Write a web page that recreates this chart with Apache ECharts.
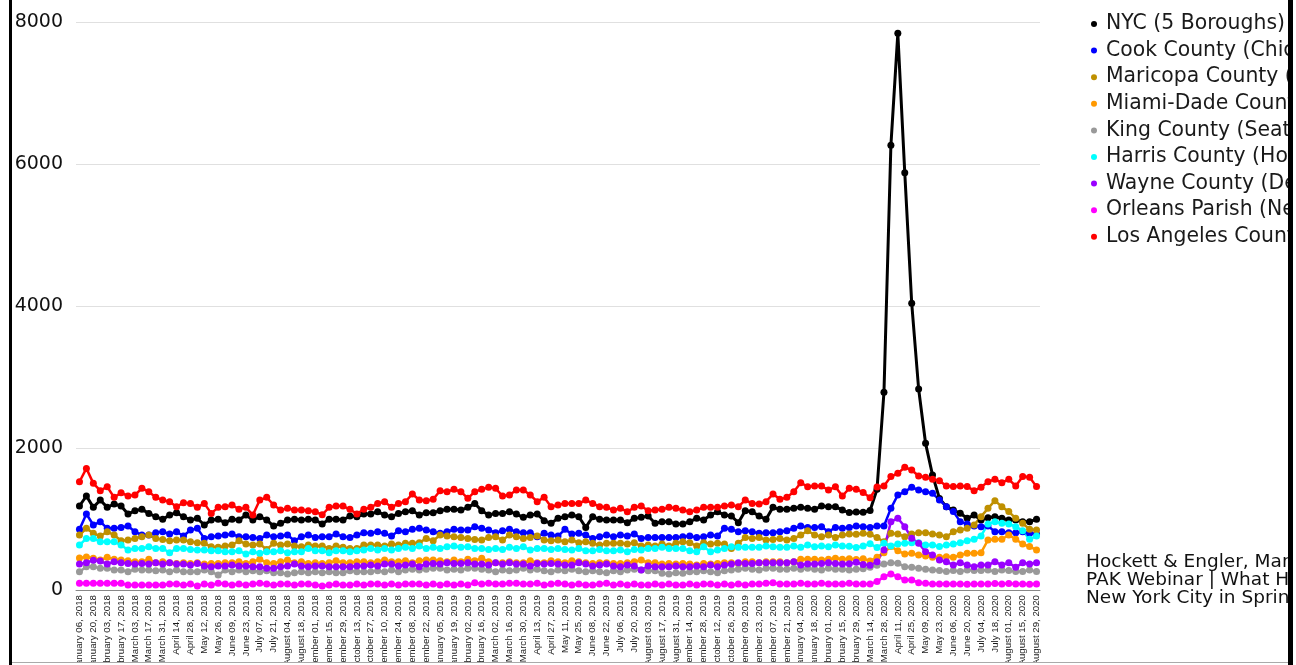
<!DOCTYPE html>
<html>
<head>
<meta charset="utf-8">
<script src="https://cdn.jsdelivr.net/npm/echarts@6/dist/echarts.min.js"></script>
<style>
html,body{margin:0;padding:0;background:#fff;width:1296px;height:665px;overflow:hidden;}
#clip{position:absolute;left:0;top:0;width:1288px;height:662px;overflow:hidden;}
#chart{position:absolute;left:0;top:0;width:1296px;height:700px;}
.bar{position:absolute;background:#000;}
</style>
</head>
<body>
<div id="clip"><div id="chart"></div></div>
<div class="bar" style="left:9px;top:0;width:3px;height:665px;"></div>
<div class="bar" style="left:1288px;top:0;width:5px;height:665px;"></div>
<div style="position:absolute;left:12px;top:662px;width:1276px;height:1px;background:#aaa;"></div>
<script>
const categories = [
"January 06, 2018","January 13, 2018","January 20, 2018","January 27, 2018",
"February 03, 2018","February 10, 2018","February 17, 2018","February 24, 2018",
"March 03, 2018","March 10, 2018","March 17, 2018","March 24, 2018","March 31, 2018",
"April 07, 2018","April 14, 2018","April 21, 2018","April 28, 2018",
"May 05, 2018","May 12, 2018","May 19, 2018","May 26, 2018",
"June 02, 2018","June 09, 2018","June 16, 2018","June 23, 2018","June 30, 2018",
"July 07, 2018","July 14, 2018","July 21, 2018","July 28, 2018",
"August 04, 2018","August 11, 2018","August 18, 2018","August 25, 2018",
"September 01, 2018","September 08, 2018","September 15, 2018","September 22, 2018","September 29, 2018",
"October 06, 2018","October 13, 2018","October 20, 2018","October 27, 2018",
"November 03, 2018","November 10, 2018","November 17, 2018","November 24, 2018",
"December 01, 2018","December 08, 2018","December 15, 2018","December 22, 2018","December 29, 2018",
"January 05, 2019","January 12, 2019","January 19, 2019","January 26, 2019",
"February 02, 2019","February 09, 2019","February 16, 2019","February 23, 2019",
"March 02, 2019","March 09, 2019","March 16, 2019","March 23, 2019","March 30, 2019",
"April 06, 2019","April 13, 2019","April 20, 2019","April 27, 2019",
"May 04, 2019","May 11, 2019","May 18, 2019","May 25, 2019",
"June 01, 2019","June 08, 2019","June 15, 2019","June 22, 2019","June 29, 2019",
"July 06, 2019","July 13, 2019","July 20, 2019","July 27, 2019",
"August 03, 2019","August 10, 2019","August 17, 2019","August 24, 2019","August 31, 2019",
"September 07, 2019","September 14, 2019","September 21, 2019","September 28, 2019",
"October 05, 2019","October 12, 2019","October 19, 2019","October 26, 2019",
"November 02, 2019","November 09, 2019","November 16, 2019","November 23, 2019","November 30, 2019",
"December 07, 2019","December 14, 2019","December 21, 2019","December 28, 2019",
"January 04, 2020","January 11, 2020","January 18, 2020","January 25, 2020",
"February 01, 2020","February 08, 2020","February 15, 2020","February 22, 2020","February 29, 2020",
"March 07, 2020","March 14, 2020","March 21, 2020","March 28, 2020",
"April 04, 2020","April 11, 2020","April 18, 2020","April 25, 2020",
"May 02, 2020","May 09, 2020","May 16, 2020","May 23, 2020","May 30, 2020",
"June 06, 2020","June 13, 2020","June 20, 2020","June 27, 2020",
"July 04, 2020","July 11, 2020","July 18, 2020","July 25, 2020",
"August 01, 2020","August 08, 2020","August 15, 2020","August 22, 2020","August 29, 2020"
];

const seriesNames = [
"NYC (5 Boroughs)","Cook County (Chicago)","Maricopa County (Phoenix)",
"Miami-Dade County (Miami)","King County (Seattle)","Harris County (Houston)",
"Wayne County (Detroit)","Orleans Parish (New Orleans)","Los Angeles County (LA)"
];

const nyc = [
1183,1324,1164,1267,1164,1211,1183,1070,1117,1136,1079,1032,995,1056,1089,1032,986,1009,915,986,995,948,995,986,1056,986,1032,986,901,939,986,995,986,995,986,929,995,995,
986,1042,1032,1070,1070,1103,1056,1032,1079,1103,1117,1056,1089,1089,1117,1136,1136,1126,1164,1220,1117,1056,1079,1079,1103,1070,1023,1056,1070,976,939,1009,1032,1056,1032,882,1032,995,986,986,
986,948,1009,1023,1042,939,962,962,929,929,962,1009,986,1056,1103,1056,1042,948,1117,1103,1042,995,1164,1136,1136,1150,1164,1150,1136,1183,1173,1173,1126,1090,1100,1095,1120,
1420,2785,6263,7840,5878,4040,2831,2066,1620,1290,1174,1127,1080,1010,1056,986,1019,1033,1010,986,986,963,963,996
];
const cook = [
854,1070,915,962,868,868,882,901,821,774,774,807,821,788,821,760,845,868,727,751,760,774,788,751,751,741,727,774,751,760,774,694,751,774,741,751,751,788,
751,741,774,807,798,821,798,760,835,821,854,868,845,821,798,821,854,845,845,892,868,845,807,835,854,821,807,807,751,798,774,760,854,788,798,774,727,751,774,751,
774,760,788,727,741,741,741,741,741,751,760,741,751,774,760,868,854,821,835,821,798,807,807,821,835,868,901,882,882,892,821,882,868,882,901,892,882,901,
902,1150,1338,1385,1446,1409,1385,1362,1268,1174,1104,963,930,902,892,902,822,822,808,808,822,798,789
];
const maricopa = [
774,868,798,760,821,774,694,704,727,751,774,727,713,694,704,704,680,666,657,610,601,619,633,694,647,633,647,572,657,633,647,619,610,633,619,619,586,619,
601,586,586,633,633,633,619,647,633,657,657,666,727,694,774,760,751,741,727,713,704,741,751,704,774,751,727,741,760,704,694,704,680,704,666,680,657,633,657,657,
657,647,666,619,633,619,647,619,657,680,666,619,666,647,657,647,586,657,741,727,741,704,713,727,704,727,774,835,774,751,774,741,774,790,785,800,785,740,
680,798,789,751,789,808,808,789,775,751,822,845,869,916,1033,1150,1258,1174,1104,1010,939,855,845
];
const miami = [
450,465,446,422,460,432,422,413,399,399,432,385,399,385,375,385,375,385,366,375,375,385,385,399,375,399,432,385,375,399,422,385,399,375,385,375,385,413,
385,385,399,399,385,399,422,399,399,413,385,413,422,422,413,399,422,399,432,413,446,399,385,385,399,385,385,413,385,385,413,399,385,413,399,385,375,385,385,375,
375,385,399,422,385,385,366,375,366,375,366,352,375,366,375,385,385,375,399,399,385,399,399,399,385,399,432,432,432,422,432,446,432,440,430,440,410,460,
526,611,554,507,517,493,479,460,460,470,460,493,517,517,526,704,714,714,775,714,648,611,564
];
const king = [
258,328,328,305,305,282,282,258,291,282,282,272,282,258,282,258,258,258,282,258,211,282,258,282,258,272,258,272,244,244,225,244,258,244,258,244,258,244,
244,272,258,258,258,272,258,282,258,282,291,282,291,305,305,282,291,282,305,305,291,282,258,282,272,282,305,282,291,272,258,282,272,291,272,258,272,258,244,272,
258,282,291,282,272,272,235,225,244,235,258,258,272,258,244,272,282,291,305,291,282,305,305,291,291,305,291,305,291,282,305,291,291,282,291,300,320,350,
366,385,376,329,319,305,291,282,273,259,273,259,282,273,273,282,259,282,273,259,259,282,259
];
const harris = [
633,727,727,680,680,680,633,563,586,586,610,586,586,525,586,586,572,563,563,554,554,540,540,554,507,540,516,540,540,554,525,540,540,586,554,554,525,554,
554,540,554,563,586,563,586,563,586,601,586,619,586,601,586,610,619,601,610,586,586,572,586,572,601,586,610,563,586,586,572,586,572,563,586,554,554,572,554,554,
563,540,572,563,586,586,601,586,586,586,554,540,610,540,563,586,610,601,601,601,601,619,610,601,601,619,601,633,610,619,610,633,619,615,600,620,650,600,
658,620,648,658,667,667,634,634,611,634,648,667,695,714,761,930,963,939,930,892,836,714,761
];
const wayne = [
366,385,420,410,366,399,385,375,366,375,366,385,366,385,366,366,352,375,338,328,338,338,352,338,338,328,328,305,305,328,338,366,338,328,338,338,328,328,
328,328,338,338,352,338,366,366,338,352,366,328,366,375,366,385,375,375,385,366,366,352,385,366,385,366,366,338,375,366,375,366,352,352,385,366,338,352,366,338,
328,352,338,282,338,328,328,328,338,328,328,338,328,352,328,352,366,385,375,375,385,385,385,385,385,399,352,366,366,375,385,375,366,370,390,360,350,399,
564,963,1010,892,728,658,540,493,423,399,352,385,352,329,352,352,399,352,385,319,385,366,385
];
const orleans = [
94,94,94,94,94,94,94,70,70,70,70,70,70,84,84,70,84,56,84,70,94,84,70,84,70,84,94,84,70,84,84,70,84,84,70,56,70,84,
70,70,84,70,84,84,70,84,70,84,84,84,70,84,70,84,70,84,70,103,84,94,84,84,94,94,84,84,94,70,84,94,84,70,84,70,70,84,94,70,
84,70,84,70,70,84,70,84,70,70,84,70,84,84,70,84,70,84,70,84,84,94,103,84,84,84,94,84,84,94,84,84,84,94,84,84,84,118,
188,226,188,141,141,103,94,85,85,85,85,85,80,85,85,85,90,85,90,85,85,80,85
];
const losAngeles = [
1525,1713,1502,1399,1455,1305,1370,1324,1338,1432,1385,1305,1267,1244,1173,1230,1220,1164,1220,1079,1164,1173,1197,1136,1164,1056,1267,1305,1197,1126,1150,1126,1126,1117,1103,1060,1164,1183,
1183,1136,1070,1136,1164,1220,1244,1164,1220,1244,1352,1267,1258,1277,1399,1385,1418,1385,1291,1385,1418,1446,1432,1324,1338,1408,1408,1338,1244,1305,1173,1197,1220,1220,1220,1267,1220,1173,1164,1126,
1150,1103,1164,1183,1117,1126,1136,1164,1150,1126,1103,1126,1164,1164,1164,1183,1197,1173,1267,1220,1211,1244,1352,1277,1305,1385,1511,1455,1464,1464,1408,1455,1324,1432,1420,1375,1300,1450,
1465,1597,1643,1728,1690,1606,1587,1559,1540,1465,1456,1465,1456,1399,1446,1526,1559,1512,1559,1465,1597,1587,1456
];
const yTicks = [0, 2000, 4000, 6000, 8000];
const sourceLines = ["Hockett & Engler, March 2021", "PAK Webinar | What Happened in", "New York City in Spring 2020"];

const seriesData = [nyc, cook, maricopa, miami, king, harris, wayne, orleans, losAngeles];
const colors = ["#000000","#0000ff","#bf9000","#ff9900","#999999","#00ffff","#9900ff","#ff00ff","#ff0000"];

const chart = echarts.init(document.getElementById('chart'), null, {renderer: 'canvas'});
const font = "'Liberation Sans', Arial, Helvetica, sans-serif";
const wideFont = "'DejaVu Sans', Verdana, sans-serif";
chart.setOption({
  animation: false,
  backgroundColor: '#ffffff',
  textStyle: {fontFamily: font},
  grid: {left: 76, right: 256, top: 22, bottom: 110, containLabel: false},
  legend: {
    orient: 'vertical', left: 1086, top: 9,
    icon: 'circle', itemWidth: 14, itemHeight: 6, itemGap: 6.6,
    textStyle: {fontFamily: wideFont, fontSize: 20.4, color: '#1a1a1a'},
    data: seriesNames
  },
  xAxis: {
    type: 'category', data: categories, boundaryGap: true,
    axisLine: {lineStyle: {color: '#888888', width: 1}},
    axisTick: {show: false},
    axisLabel: {rotate: 90, interval: 1, fontSize: 9.7, color: '#1a1a1a', margin: 5, fontFamily: font}
  },
  yAxis: {
    type: 'value', min: yTicks[0], max: yTicks[yTicks.length - 1], interval: 2000,
    axisLine: {show: false}, axisTick: {show: false},
    axisLabel: {fontSize: 19, color: '#111111', margin: 13, fontFamily: wideFont, formatter: v => String(v)},
    splitLine: {lineStyle: {color: '#e0e0e0', width: 1}}
  },
  graphic: [{
    type: 'text', left: 1086, top: 553,
    style: {text: sourceLines.join('\n'), font: "18.5px " + wideFont, lineHeight: 18, fill: '#111111'}
  }],
  series: seriesData.map((d, i) => ({
    name: seriesNames[i], type: 'line', data: d,
    symbol: 'circle', symbolSize: 7, showAllSymbol: true,
    lineStyle: {color: colors[i], width: i === 0 ? 3 : 2.5},
    itemStyle: {color: colors[i]},
    emphasis: {disabled: true}
  }))
});
</script>
</body>
</html>
